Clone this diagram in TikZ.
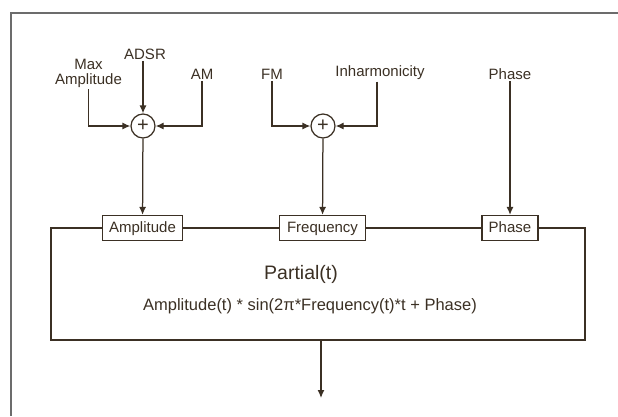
\documentclass[tikz,border=0pt]{standalone}
\usepackage{fontspec}
\setmainfont{Liberation Sans}
\usetikzlibrary{arrows.meta}
\definecolor{ink}{HTML}{3B3024}
\tikzset{
    sum/.style={circle, draw, fill=white, minimum size=24pt, inner sep=0pt, font=\fontsize{20}{20}\selectfont}, % adder
    port/.style={draw, fill=white, minimum height=25pt, inner sep=2pt, text height=11pt, text depth=3pt}, % input box on the partial
    lbl/.style={inner sep=1pt, align=center}, % input label
    arr/.style={-{Latex[length=8pt, width=7pt]}}
}

\begin{document}
\begin{tikzpicture}[x=1pt, y=-1pt, line width=1.25pt, ink, text=ink, font=\fontsize{15}{15}\selectfont]
    \useasboundingbox (0,0) rectangle (618,416);
    \draw[gray!85!black, line width=1.5pt] (11,416) -- (11,13) -- (618,13);

    \node[draw, minimum width=534pt, minimum height=112pt] (partial) at (318,284) {};
    \node (title) at (301,274) {\fontsize{19.5}{22}\selectfont Partial(t)};
    \node (formula) at (310,306) {\fontsize{16.5}{18}\selectfont Amplitude(t) * sin(2π*Frequency(t)*t + Phase)};

    \node[port, minimum width=80pt] (amp) at (142.5,228) {Amplitude};
    \node[port, minimum width=86pt] (freq) at (322.5,228) {Frequency};
    \node[port, minimum width=56pt] (phase) at (510,228) {Phase};

    \node[sum] (sum1) at (143,126) {+};
    \node[sum] (sum2) at (323,126) {+};

    \node[lbl] (maxamp) at (88.5,73.5) {Max\\Amplitude};
    \node[lbl] (adsr) at (145,54) {ADSR};
    \node[lbl] (am) at (202,74) {AM};
    \node[lbl] (fm) at (272,74) {FM};
    \node[lbl] (inh) at (380,73) {Inharmonicity};
    \node[lbl] (phin) at (510,74) {Phase};

    \draw[arr] (maxamp.south) |- (sum1.west);
    \draw[arr] (adsr.south -| sum1) -- (sum1.north);
    \draw[arr] (am.south) |- (sum1.east);
    \draw[arr] (sum1) -- (amp);
    \draw[arr] (fm.south) |- (sum2.west);
    \draw[arr] (inh.south -| 377,0) |- (sum2.east);
    \draw[arr] (sum2) -- (freq);
    \draw[arr] (phin) -- (phase);

    \coordinate (out) at (321,398);
    \draw[arr] (partial.south -| out) -- (out);
\end{tikzpicture}
\end{document}
